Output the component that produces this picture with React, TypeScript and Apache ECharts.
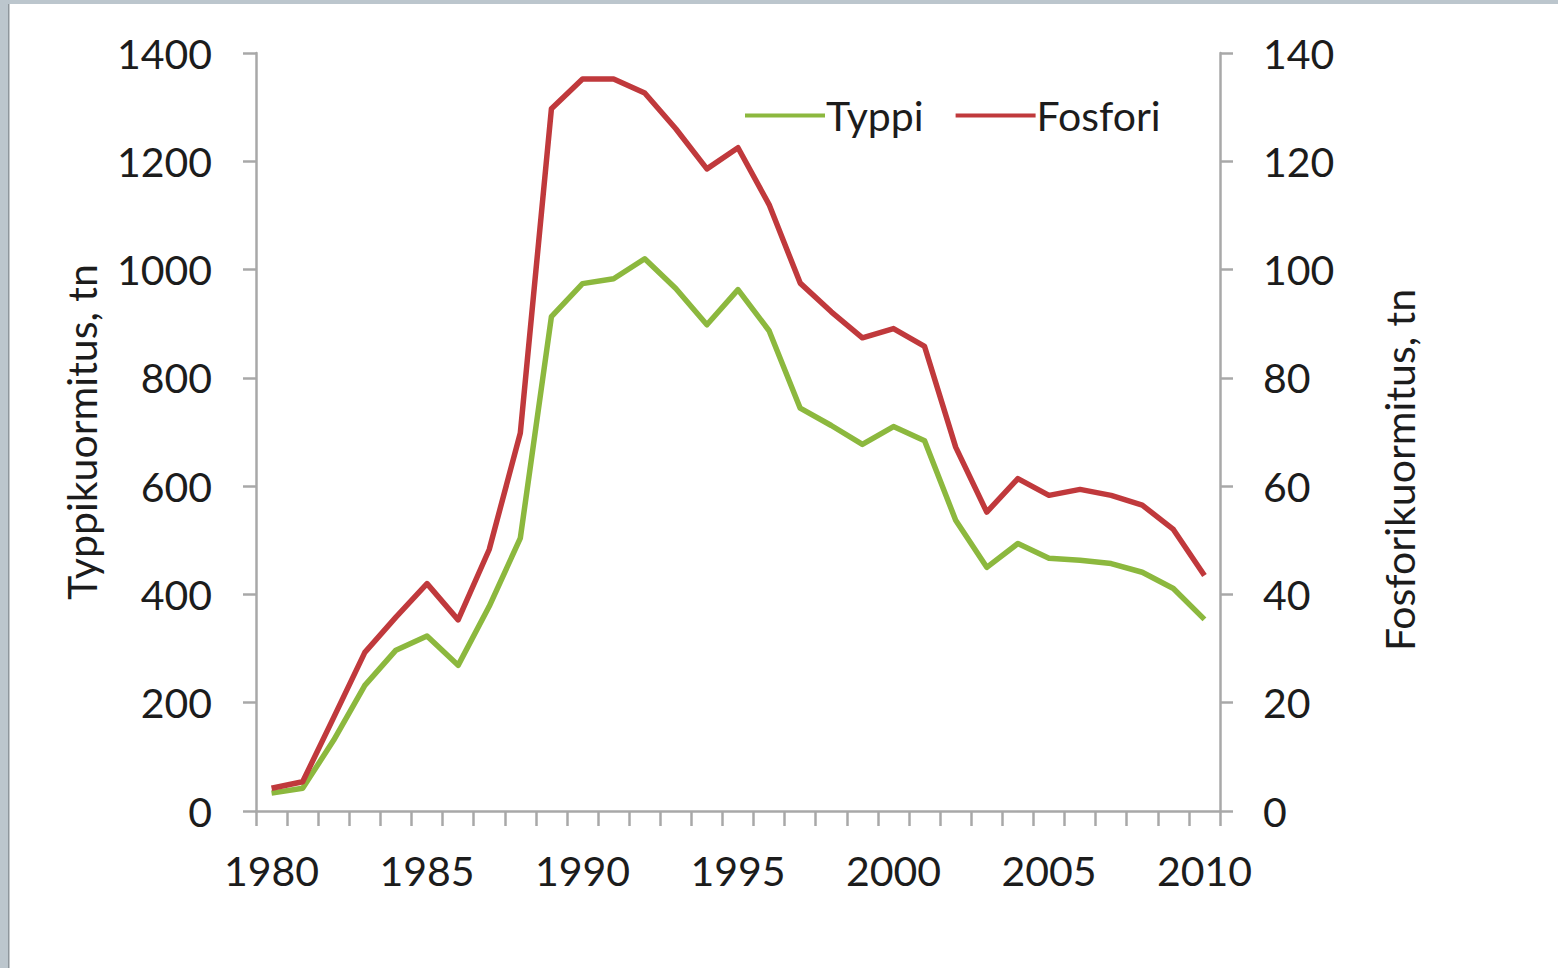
import React, { useEffect, useRef } from "react";
import * as echarts from "echarts";

const years: string[] = [
  "1980", "1981", "1982", "1983", "1984", "1985", "1986", "1987", "1988", "1989",
  "1990", "1991", "1992", "1993", "1994", "1995", "1996", "1997", "1998", "1999",
  "2000", "2001", "2002", "2003", "2004", "2005", "2006", "2007", "2008", "2009", "2010",
];

const typpi: number[] = [
  33, 42, 131, 232, 297, 323, 269, 378, 504, 913,
  974, 983, 1020, 965, 898, 963, 887, 744, 712, 677,
  710, 684, 537, 450, 494, 467, 463, 457, 441, 411, 354,
];

const fosfori: number[] = [
  4.2, 5.4, 17.3, 29.3, 35.8, 42, 35.3, 48.3, 69.8, 129.7,
  135.2, 135.2, 132.6, 126, 118.6, 122.5, 112, 97.5, 92.2, 87.4,
  89.1, 85.8, 67.2, 55.2, 61.4, 58.3, 59.4, 58.3, 56.5, 52, 43.5,
];

const leftTicks = { min: 0, max: 1400, interval: 200 };
const rightTicks = { min: 0, max: 140, interval: 20 };

const FONT = "Lato";
const TEXT = "#1c1c1c";
const AXIS = "#a8a8a8";
const GREEN = "#8cb83e";
const RED = "#c0393c";
const FS = 41;

export default function App() {
  const ref = useRef<HTMLDivElement>(null);

  useEffect(() => {
    if (!ref.current) return;
    const chart = echarts.init(ref.current, undefined, { renderer: "svg" });
    const plain = (v: number) => String(v);
    chart.setOption({
      animation: false,
      backgroundColor: "#ffffff",
      textStyle: { fontFamily: FONT, color: TEXT },
      grid: { left: 256, right: 338, top: 53, bottom: 157, containLabel: false },
      legend: {
        left: 740,
        top: 90,
        itemWidth: 80,
        itemHeight: 20,
        itemGap: 32,
        textStyle: { fontFamily: FONT, fontSize: FS, color: TEXT, padding: [0, 0, 0, -4] },
        data: [
          { name: "Typpi", itemStyle: { color: GREEN }, icon: "path://M0,8 L80,8 L80,12 L0,12 Z" },
          { name: "Fosfori", itemStyle: { color: RED }, icon: "path://M0,8 L80,8 L80,12 L0,12 Z" },
        ],
      },
      xAxis: {
        type: "category",
        data: years,
        boundaryGap: true,
        axisLine: { lineStyle: { color: AXIS, width: 2.5 } },
        axisTick: { show: true, interval: 0, alignWithLabel: false, length: 15, lineStyle: { color: AXIS, width: 2.5 } },
        axisLabel: { interval: 4, fontSize: FS, fontFamily: FONT, color: TEXT, margin: 39 },
        splitLine: { show: false },
      },
      yAxis: [
        {
          type: "value",
          position: "left",
          min: leftTicks.min,
          max: leftTicks.max,
          interval: leftTicks.interval,
          name: "Typpikuormitus, tn",
          nameLocation: "middle",
          nameRotate: 90,
          nameGap: 154,
          nameTextStyle: { fontFamily: FONT, fontSize: FS, color: TEXT },
          axisLine: { show: true, lineStyle: { color: AXIS, width: 2.5 } },
          axisTick: { show: true, length: 13, lineStyle: { color: AXIS, width: 2.5 } },
          axisLabel: { fontSize: FS, fontFamily: FONT, color: TEXT, margin: 44, formatter: plain },
          splitLine: { show: false },
        },
        {
          type: "value",
          position: "right",
          min: rightTicks.min,
          max: rightTicks.max,
          interval: rightTicks.interval,
          name: "Fosforikuormitus, tn",
          nameLocation: "middle",
          nameRotate: 90,
          nameGap: 159,
          nameTextStyle: { fontFamily: FONT, fontSize: FS, color: TEXT, padding: [0, 76, 0, 0] },
          axisLine: { show: true, lineStyle: { color: AXIS, width: 2.5 } },
          axisTick: { show: true, length: 13, lineStyle: { color: AXIS, width: 2.5 } },
          axisLabel: { fontSize: FS, fontFamily: FONT, color: TEXT, margin: 43, formatter: plain },
          splitLine: { show: false },
        },
      ],
      series: [
        {
          name: "Typpi",
          type: "line",
          yAxisIndex: 0,
          data: typpi,
          symbol: "none",
          showSymbol: false,
          lineStyle: { color: GREEN, width: 5.5, join: "round" },
          itemStyle: { color: GREEN },
        },
        {
          name: "Fosfori",
          type: "line",
          yAxisIndex: 1,
          data: fosfori,
          symbol: "none",
          showSymbol: false,
          lineStyle: { color: RED, width: 5.5, join: "round" },
          itemStyle: { color: RED },
        },
      ],
      graphic: [
        { type: "rect", left: 0, top: 0, shape: { width: 1558, height: 4 }, style: { fill: "#bcc6cd" }, silent: true },
        { type: "rect", left: 0, top: 0, shape: { width: 8, height: 968 }, style: { fill: "#bcc6cd" }, silent: true },
        { type: "rect", left: 8, top: 4, shape: { width: 1.5, height: 964 }, style: { fill: "#8e969c" }, silent: true },
      ],
    });
    return () => chart.dispose();
  }, []);

  return (
    <div
      ref={ref}
      style={{ position: "fixed", left: 0, top: 0, width: 1558, height: 968, background: "#fff" }}
    />
  );
}
